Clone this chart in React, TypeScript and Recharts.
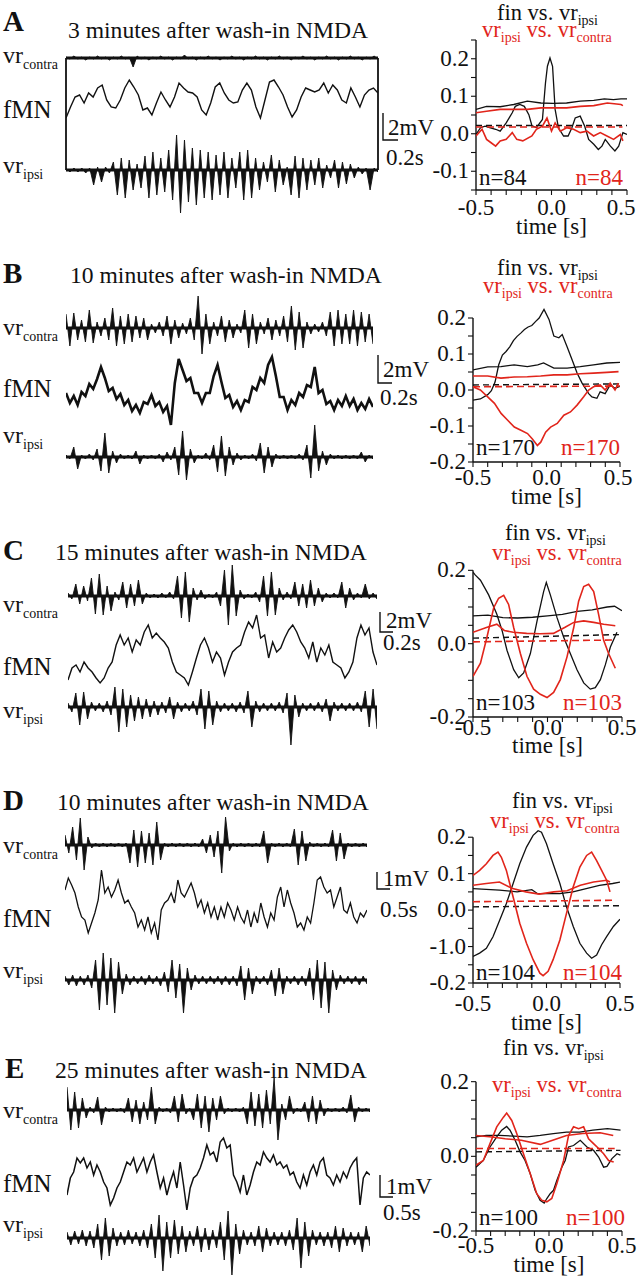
import React from "react";
import { LineChart, ComposedChart, Line, Area, XAxis, YAxis, ReferenceLine } from "recharts";

const SERIF = "'Liberation Serif', 'Times New Roman', Times, serif";
const RED = "#e1251b";

// ---------- text ----------
const letters = ["A", "B", "C", "D", "E"];
const minutesAfter = [3, 10, 15, 10, 25];
const pairCounts = [84, 170, 103, 104, 100];
const scaleAmp = ["2mV", "2mV", "2mV", "1mV", "1mV"];
const scaleTime = ["0.2s", "0.2s", "0.2s", "0.5s", "0.5s"];

// ---------- correlogram axes ----------
const lagTicks = [-0.5, -0.4, -0.3, -0.2, -0.1, 0, 0.1, 0.2, 0.3, 0.4, 0.5];
const lagLabelAt = [-0.5, 0, 0.5];
const lagLabelText = ["-0.5", "0.0", "0.5"];
const yTicksA = [-0.15, -0.1, -0.05, 0, 0.05, 0.1, 0.15, 0.2, 0.25];
const yTicksFull = [-0.2, -0.15, -0.1, -0.05, 0, 0.05, 0.1, 0.15, 0.2];
const yLabelAtA = [-0.1, 0, 0.1, 0.2];
const yLabelTextA = ["-0.1", "0.0", "0.1", "0.2"];
const yLabelAtFive = [-0.2, -0.1, 0, 0.1, 0.2];
const yLabelTextB = ["-0.2", "-0.1", "0.0", "0.1", "0.2"];
const yLabelTextD = ["-0.2", "-1.0", "0.0", "0.1", "0.2"]; // printed this way in the figure
const yLabelAtThree = [-0.2, 0, 0.2];
const yLabelTextThree = ["-0.2", "0.0", "0.2"];

// ---------- raw traces (deflection, px at figure scale) ----------
const contraA = [1,-1,2,-1,1,-2,1,-1,2,-1,1,-2,1,-1,2,-1,1,-9,2,-1,1,-2,1,-1,2,-1,1,-2,1,-1,3,-1,1,-2,1,-1,2,-1,1,-2,1,-1,2,-1,1,-2,1,-1,2,-1,1,-2,1,-1,2,-1,1,-2,1,-1,2,-1,1,-2,1,-1,2,-1,1,-2,1,-1,2,-1,1,-2,1,-1,2,-1];
const fmnA = [7,18,28,30,22,32,28,37,40,25,18,17,25,37,45,38,30,15,17,10,22,33,25,18,28,42,37,33,32,28,15,10,22,38,42,32,25,22,23,35,42,35,18,7,25,43,45,38,30,18,8,15,28,37,35,33,35,42,32,40,35,25,22,37,28,18,30,35,37,32];
const ipsiA = [2,-2,2,-2,2,-3,2,-15,3,-12,3,-3,8,-25,12,-28,10,-20,6,-18,14,-28,18,-25,12,-22,20,-30,35,-43,30,-32,22,-35,20,-28,18,-30,15,-25,18,-28,12,-18,18,-30,20,-28,12,-20,8,-12,15,-22,10,-15,3,-25,14,-28,12,-20,10,-15,12,-18,5,-8,10,-18,8,-14,6,-8,3,-4,2,-20,2,-2];

const contraB = [14,-18,15,-12,8,-14,18,-15,6,-8,10,-12,20,-18,12,-16,14,-14,12,-10,10,-12,4,-5,6,-8,12,-16,8,-10,5,-6,10,-12,32,-26,14,-16,6,-8,12,-14,8,-10,4,-5,18,-20,14,-16,6,-6,10,-12,8,-8,12,-14,22,-22,16,-20,6,-6,4,-4,6,-8,16,-18,18,-16,14,-16,18,-18,16,-14,14,-16];
const fmnB = [37,27,34,25,38,34,46,41,51,63,52,39,42,31,36,25,30,19,25,17,28,26,35,24,28,18,24,5,47,71,60,49,52,37,37,27,37,37,54,65,48,32,35,23,29,20,30,28,43,40,52,47,65,73,54,33,33,20,30,25,37,33,45,43,63,37,40,26,29,20,30,24,34,24,31,20,27,21,31,23];
const ipsiB = [2,-2,10,-12,2,-2,3,-3,8,-14,24,-16,6,-6,3,-2,2,-2,6,-7,2,-2,2,-2,3,-5,5,-3,10,-18,26,-23,8,-6,2,-2,4,-3,12,-15,21,-19,10,-8,4,-3,2,-2,3,-4,14,-16,10,-10,3,-2,2,-2,2,-2,3,-3,12,-21,32,-14,6,-8,3,-2,2,-2,2,-2,2,-2,5,-5,2,-2];

const contraC = [3,-3,12,-8,10,-5,18,-18,22,-19,10,-15,4,-4,14,-12,12,-10,16,-8,3,-2,2,-2,3,-2,4,-3,20,-22,24,-26,8,-4,6,-3,2,-2,4,-10,26,-29,31,-20,6,-3,2,-2,4,-6,20,-20,24,-19,8,-4,4,-3,14,-10,12,-12,16,-10,8,-6,3,-2,3,-2,14,-12,8,-4,3,-2,12,-3,3,-3];
const fmnC = [10,22,25,18,28,22,18,12,7,12,22,28,45,55,45,52,38,50,45,58,65,52,57,52,48,42,28,18,15,12,5,18,32,45,52,42,28,38,32,15,28,38,42,45,58,68,62,75,52,55,32,48,38,42,52,60,65,58,48,42,32,48,28,42,35,45,28,25,22,12,18,28,52,65,55,62,38,25];
const ipsiC = [4,-5,14,-18,15,-12,5,-4,4,-5,6,-8,20,-25,18,-20,12,-14,10,-12,8,-10,6,-8,5,-6,10,-12,5,-5,4,-4,6,-8,18,-22,16,-18,6,-5,4,-4,4,-5,5,-6,16,-20,6,-5,4,-4,4,-4,5,-6,14,-38,12,-10,4,-4,4,-4,5,-5,8,-14,5,-4,4,-4,4,-4,5,-5,16,-20,18,-22];

const contraD = [10,-8,18,-15,27,-25,8,-3,2,-2,2,-2,2,-2,2,-2,2,-18,15,-22,14,-18,12,-20,23,-15,2,-2,2,-2,2,-2,2,-2,2,-2,6,-8,10,-12,14,-28,28,-6,2,-2,2,-2,2,-2,2,-2,14,-18,2,-2,2,-2,2,-2,16,-20,14,-16,3,-2,2,-2,2,-2,15,-16,12,-14,2,-2,2,-2,2,-2];
const fmnD = [55,67,60,52,38,28,25,12,22,32,45,75,52,58,48,55,65,52,42,45,38,32,18,25,15,28,12,22,5,35,42,45,52,42,65,52,48,55,62,52,38,45,32,42,28,38,25,38,28,42,35,25,38,28,22,35,18,32,22,42,28,18,32,25,48,58,38,55,42,32,18,22,15,28,22,42,65,68,58,52,55,38,48,58,35,32,42,28,22,32,28,35];
const ipsiD = [4,-5,5,-6,4,-5,5,-8,20,-30,27,-25,22,-33,18,-14,6,-5,4,-4,4,-5,5,-4,4,-6,8,-12,20,-18,16,-33,12,-10,5,-4,4,-4,4,-4,4,-5,4,-5,4,-6,14,-20,12,-14,4,-4,4,-5,10,-16,12,-14,4,-4,4,-5,4,-6,12,-20,20,-28,18,-33,10,-10,5,-4,4,-4,4,-5,4,-4];

const contraE = [23,-20,18,-18,12,-8,3,-3,13,-15,3,-2,2,-2,2,-3,12,-12,10,-14,8,-10,23,-14,3,-2,2,-3,14,-12,16,-4,2,-10,16,-18,14,-22,12,-10,14,-4,2,-2,2,-2,3,-14,18,-16,16,-18,20,-14,32,-30,6,-10,14,-4,2,-2,8,-12,14,-14,10,-6,2,-2,2,-2,3,-3,15,-12,3,-2,2,-2];
const fmnE = [20,37,43,57,52,57,47,53,40,50,43,33,27,10,17,27,33,43,53,50,57,43,50,57,43,53,60,43,27,37,20,33,43,27,53,30,5,27,37,40,47,57,70,60,63,53,73,77,67,70,40,33,23,40,20,30,43,53,50,63,57,53,60,50,53,47,50,40,43,33,27,40,30,43,50,40,53,57,40,37,30,40,33,43,37,47,53,57,10,37,43,40];
const ipsiE = [6,-7,7,-6,8,-8,7,-10,14,-22,20,-18,10,-8,6,-7,8,-6,6,-8,8,-10,14,-20,23,-33,16,-20,18,-16,12,-14,7,-8,12,-14,10,-12,8,-10,16,-22,27,-37,14,-16,8,-7,6,-8,12,-14,10,-8,6,-7,6,-8,8,-12,20,-30,16,-18,8,-7,6,-8,6,-10,12,-14,10,-8,6,-7,6,-14,12,-8];

// ---------- cross-correlograms: [lag (s), value] ----------
const finCorrA = [[-0.5,-0.002],[-0.47,0.016],[-0.44,0.02],[-0.41,0.016],[-0.37,0.012],[-0.34,0.007],[-0.3,0.029],[-0.26,0.056],[-0.24,0.073],[-0.21,0.078],[-0.18,0.073],[-0.15,0.051],[-0.13,0.022],[-0.1,0.016],[-0.06,0.038],[-0.04,0.135],[-0.027,0.18],[-0.01,0.202],[0.007,0.18],[0.024,0.065],[0.046,0.016],[0.08,-0.006],[0.11,-0.006],[0.135,0.016],[0.157,0.042],[0.19,0.047],[0.22,0.02],[0.246,-0.015],[0.28,-0.028],[0.31,-0.042],[0.334,-0.033],[0.356,-0.015],[0.39,-0.033],[0.42,-0.046],[0.445,-0.033],[0.473,0.003],[0.5,-0.002]];
const finCiA = [[-0.5,0.065],[-0.43,0.073],[-0.34,0.072],[-0.25,0.078],[-0.16,0.087],[-0.07,0.082],[0.01,0.081],[0.1,0.082],[0.19,0.087],[0.28,0.089],[0.35,0.093],[0.41,0.091],[0.46,0.093],[0.5,0.093]];
const finMeanA = [[-0.5,0.022],[0.5,0.022]];
const vrCorrA = [[-0.5,-0.006],[-0.46,0.012],[-0.43,-0.015],[-0.4,-0.024],[-0.37,-0.033],[-0.34,-0.019],[-0.3,-0.015],[-0.26,0.003],[-0.23,-0.015],[-0.19,-0.019],[-0.13,-0.006],[-0.1,0.012],[-0.06,0.02],[-0.03,0.042],[0,0.007],[0.024,0.029],[0.058,0.007],[0.1,0.016],[0.146,0.012],[0.19,0.003],[0.235,0.007],[0.279,-0.006],[0.323,0.003],[0.367,-0.006],[0.411,-0.015],[0.456,-0.002],[0.473,-0.019]];
const vrCiA = [[-0.5,0.056],[-0.43,0.06],[-0.34,0.065],[-0.25,0.065],[-0.16,0.065],[-0.07,0.069],[0.01,0.069],[0.1,0.069],[0.19,0.073],[0.28,0.075],[0.37,0.082],[0.46,0.078],[0.473,0.075]];
const vrMeanA = [[-0.5,0.018],[0.47,0.018]];

const finCorrB = [[-0.5,-0.028],[-0.45,-0.025],[-0.4,-0.013],[-0.375,-0.002],[-0.35,0.022],[-0.325,0.07],[-0.3,0.097],[-0.275,0.107],[-0.25,0.12],[-0.225,0.137],[-0.2,0.149],[-0.175,0.158],[-0.15,0.168],[-0.125,0.175],[-0.1,0.179],[-0.075,0.19],[-0.05,0.2],[-0.017,0.224],[0.017,0.196],[0.05,0.15],[0.084,0.145],[0.107,0.154],[0.14,0.12],[0.174,0.084],[0.208,0.047],[0.242,0.019],[0.287,-0.01],[0.309,-0.019],[0.343,-0.023],[0.365,-0.005],[0.399,-0.01],[0.433,0.014],[0.466,0.005],[0.5,0.01]];
const finCiB = [[-0.5,0.056],[-0.4,0.064],[-0.31,0.065],[-0.22,0.07],[-0.13,0.065],[-0.06,0.07],[-0.02,0.075],[0.05,0.061],[0.14,0.061],[0.23,0.065],[0.32,0.07],[0.41,0.075],[0.5,0.077]];
const finMeanB = [[-0.5,0.014],[0.5,0.017]];
const vrCorrB = [[-0.5,0.009],[-0.45,0],[-0.4,-0.019],[-0.354,-0.037],[-0.309,-0.065],[-0.264,-0.084],[-0.219,-0.103],[-0.174,-0.112],[-0.129,-0.121],[-0.096,-0.136],[-0.062,-0.154],[-0.039,-0.145],[-0.006,-0.117],[0.028,-0.103],[0.073,-0.093],[0.118,-0.07],[0.163,-0.061],[0.208,-0.042],[0.253,-0.019],[0.287,0],[0.32,0.009],[0.365,0.014],[0.399,0],[0.433,0.019],[0.466,0],[0.49,0.019]];
const vrCiB = [[-0.5,0.039],[-0.4,0.039],[-0.31,0.033],[-0.22,0.036],[-0.13,0.037],[-0.04,0.039],[0.05,0.042],[0.14,0.042],[0.23,0.045],[0.32,0.047],[0.41,0.049],[0.49,0.051]];
const vrMeanB = [[-0.5,0.009],[0.5,0.011]];

const finCorrC = [[-0.5,0.195],[-0.484,0.187],[-0.45,0.173],[-0.395,0.133],[-0.34,0.08],[-0.305,0.036],[-0.272,-0.018],[-0.227,-0.071],[-0.193,-0.093],[-0.16,-0.08],[-0.115,-0.027],[-0.07,0.062],[-0.026,0.142],[-0.008,0.167],[0.019,0.133],[0.064,0.071],[0.108,0.018],[0.153,-0.027],[0.198,-0.071],[0.243,-0.107],[0.287,-0.124],[0.321,-0.12],[0.355,-0.098],[0.388,-0.058],[0.422,-0.009],[0.466,0.031]];
const finCiC = [[-0.5,0.076],[-0.4,0.078],[-0.3,0.071],[-0.2,0.07],[-0.1,0.072],[0,0.076],[0.1,0.08],[0.2,0.088],[0.3,0.092],[0.4,0.1],[0.45,0.102],[0.5,0.09]];
const finMeanC = [[-0.5,0.015],[0.5,0.025]];
const vrCorrC = [[-0.5,-0.089],[-0.45,-0.053],[-0.406,0.018],[-0.361,0.098],[-0.328,0.124],[-0.294,0.132],[-0.261,0.107],[-0.227,0.044],[-0.182,-0.027],[-0.138,-0.089],[-0.093,-0.124],[-0.048,-0.138],[-0.003,-0.147],[0.041,-0.133],[0.086,-0.098],[0.131,-0.036],[0.176,0.044],[0.209,0.116],[0.243,0.156],[0.276,0.162],[0.31,0.142],[0.343,0.08],[0.377,0.009],[0.41,-0.027],[0.455,-0.067]];
const vrCiC = [[-0.5,0.031],[-0.41,0.044],[-0.34,0.053],[-0.29,0.036],[-0.23,0.031],[-0.14,0.028],[-0.05,0.027],[0.04,0.028],[0.115,0.044],[0.176,0.058],[0.243,0.062],[0.31,0.058],[0.377,0.053],[0.455,0.049]];
const vrMeanC = [[-0.5,0.005],[0.45,0.01]];

const finCorrD = [[-0.5,-0.127],[-0.455,-0.118],[-0.409,-0.105],[-0.364,-0.073],[-0.318,-0.027],[-0.273,0.018],[-0.227,0.073],[-0.182,0.127],[-0.136,0.173],[-0.091,0.205],[-0.057,0.218],[-0.034,0.214],[0,0.182],[0.045,0.127],[0.091,0.073],[0.136,0.009],[0.182,-0.045],[0.227,-0.091],[0.273,-0.118],[0.307,-0.132],[0.341,-0.123],[0.375,-0.095],[0.409,-0.073],[0.455,-0.045],[0.5,-0.025]];
const finCiD = [[-0.5,0.059],[-0.32,0.055],[-0.2,0.05],[-0.1,0.056],[-0.06,0.045],[0,0.045],[0.09,0.045],[0.18,0.05],[0.27,0.059],[0.36,0.068],[0.45,0.073],[0.5,0.077]];
const finMeanD = [[-0.5,0.009],[0.5,0.012]];
const vrCorrD = [[-0.5,0.095],[-0.455,0.109],[-0.409,0.127],[-0.364,0.15],[-0.33,0.159],[-0.307,0.145],[-0.273,0.109],[-0.227,0.036],[-0.182,-0.036],[-0.136,-0.091],[-0.091,-0.136],[-0.045,-0.173],[-0.023,-0.18],[0.011,-0.168],[0.045,-0.136],[0.091,-0.082],[0.136,-0.009],[0.182,0.064],[0.227,0.118],[0.273,0.15],[0.307,0.159],[0.341,0.136],[0.375,0.109],[0.409,0.082],[0.432,0.05]];
const vrCiD = [[-0.5,0.068],[-0.41,0.073],[-0.32,0.077],[-0.23,0.059],[-0.14,0.05],[-0.05,0.044],[0.05,0.05],[0.14,0.053],[0.23,0.068],[0.32,0.077],[0.41,0.082],[0.432,0.077]];
const vrMeanD = [[-0.5,0.023],[0.45,0.027]];

const finCorrE = [[-0.5,-0.029],[-0.45,-0.011],[-0.404,0.025],[-0.358,0.052],[-0.324,0.07],[-0.29,0.08],[-0.267,0.07],[-0.232,0.043],[-0.198,0.012],[-0.164,-0.011],[-0.129,-0.046],[-0.095,-0.091],[-0.061,-0.118],[-0.033,-0.125],[-0.015,-0.113],[0.008,-0.1],[0.031,-0.091],[0.054,-0.064],[0.088,-0.029],[0.111,-0.011],[0.134,0.025],[0.168,0.029],[0.214,0.043],[0.26,0.025],[0.305,0.016],[0.34,-0.002],[0.374,-0.029],[0.397,-0.027],[0.431,-0.006],[0.466,0.007],[0.489,0.003]];
const finCiE = [[-0.5,0.052],[-0.43,0.056],[-0.34,0.056],[-0.24,0.054],[-0.15,0.052],[-0.06,0.056],[0.03,0.061],[0.12,0.065],[0.21,0.065],[0.3,0.07],[0.4,0.074],[0.49,0.07]];
const finMeanE = [[-0.5,0.012],[0.49,0.016]];
const vrCorrE = [[-0.5,-0.024],[-0.45,-0.011],[-0.404,0.034],[-0.358,0.079],[-0.312,0.105],[-0.29,0.116],[-0.255,0.096],[-0.221,0.061],[-0.175,0.007],[-0.129,-0.046],[-0.084,-0.1],[-0.049,-0.118],[-0.015,-0.122],[0.019,-0.113],[0.054,-0.073],[0.1,-0.011],[0.134,0.056],[0.168,0.079],[0.203,0.074],[0.237,0.079],[0.271,0.047],[0.305,0.034],[0.34,0.021],[0.374,0.007],[0.408,-0.011],[0.443,-0.015]];
const vrCiE = [[-0.5,0.056],[-0.39,0.052],[-0.3,0.047],[-0.19,0.043],[-0.06,0.032],[0.01,0.041],[0.12,0.056],[0.23,0.061],[0.35,0.063],[0.44,0.056]];
const vrMeanE = [[-0.5,0.021],[0.45,0.021]];

// ---------- layout (figure pixels) ----------
// plot: l/r = x of lag -0.5 / 0.5, t = y of yDom[1], b = y of yDom[0]
const layout = [
  {
    letterY: 31, titleX: 68, titleY: 38, tx: 66, tw: 312,
    contraBase: 58, contraDom: [-10, 10], fmnTop: 75, fmnDom: [0, 50], ipsiBase: 170, ipsiDom: [-45, 40],
    lblContra: 63, lblFmn: 118, lblIpsi: 173,
    bar: { x: 383, y1: 113, y2: 140, w: 15, ampX: 388, ampY: 135, timeX: 386, timeY: 165 },
    plot: { l: 476, t: 40, r: 627, b: 190 }, yDom: [-0.15, 0.25], axisTop: 0.25,
    finTitle: [497, 20], vrTitle: [482, 37], xLabDy: 25, lastLabDx: -6, timeLabY: 234, nY: 185, nRight: 623,
    box: true, fmnWidth: 1.4,
  },
  {
    letterY: 283, titleX: 70, titleY: 283, tx: 66, tw: 307,
    contraBase: 328, contraDom: [-30, 35], fmnTop: 350, fmnDom: [0, 80], ipsiBase: 457, ipsiDom: [-25, 35],
    lblContra: 335, lblFmn: 397, lblIpsi: 443,
    bar: { x: 378, y1: 355, y2: 383, w: 14, ampX: 383, ampY: 377, timeX: 380, timeY: 405 },
    plot: { l: 473, t: 300, r: 620, b: 462 }, yDom: [-0.2, 0.25], axisTop: 0.2,
    finTitle: [497, 275], vrTitle: [483, 293], xLabDy: 23, lastLabDx: -2, timeLabY: 504, nY: 455, nRight: 620,
    box: false, fmnWidth: 2.6,
  },
  {
    letterY: 560, titleX: 55, titleY: 560, tx: 68, tw: 309,
    contraBase: 596, contraDom: [-30, 32], fmnTop: 610, fmnDom: [0, 80], ipsiBase: 707, ipsiDom: [-40, 25],
    lblContra: 612, lblFmn: 675, lblIpsi: 718,
    bar: { x: 380, y1: 612, y2: 632, w: 13, ampX: 386, ampY: 628, timeX: 383, timeY: 650 },
    plot: { l: 473, t: 552, r: 622, b: 717 }, yDom: [-0.2, 0.25], axisTop: 0.2,
    finTitle: [505, 540], vrTitle: [492, 560], xLabDy: 18, lastLabDx: 0, timeLabY: 753, nY: 710, nRight: 622,
    box: false, fmnWidth: 1.4,
  },
  {
    letterY: 810, titleX: 57, titleY: 810, tx: 65, tw: 302,
    contraBase: 845, contraDom: [-30, 30], fmnTop: 868, fmnDom: [0, 77], ipsiBase: 980, ipsiDom: [-35, 30],
    lblContra: 853, lblFmn: 927, lblIpsi: 978,
    bar: { x: 377, y1: 872, y2: 889, w: 13, ampX: 383, ampY: 886, timeX: 380, timeY: 917 },
    plot: { l: 473, t: 819, r: 620, b: 983 }, yDom: [-0.2, 0.25], axisTop: 0.2,
    finTitle: [512, 808], vrTitle: [490, 828], xLabDy: 28, lastLabDx: 0, timeLabY: 1030, nY: 980, nRight: 622,
    box: false, fmnWidth: 1.3,
  },
  {
    letterY: 1078, titleX: 55, titleY: 1078, tx: 67, tw: 303,
    contraBase: 1110, contraDom: [-32, 34], fmnTop: 1135, fmnDom: [0, 80], ipsiBase: 1238, ipsiDom: [-40, 30],
    lblContra: 1118, lblFmn: 1192, lblIpsi: 1232,
    bar: { x: 380, y1: 1175, y2: 1197, w: 13, ampX: 386, ampY: 1194, timeX: 383, timeY: 1220 },
    plot: { l: 476, t: 1063, r: 622, b: 1231 }, yDom: [-0.2, 0.25], axisTop: 0.2,
    finTitle: [503, 1055], vrTitle: [492, 1092], xLabDy: 22, lastLabDx: 0, timeLabY: 1272, nY: 1225, nRight: 625,
    box: false, fmnWidth: 1.5,
  },
];

const traces = [
  [contraA, fmnA, ipsiA],
  [contraB, fmnB, ipsiB],
  [contraC, fmnC, ipsiC],
  [contraD, fmnD, ipsiD],
  [contraE, fmnE, ipsiE],
];

const correlograms = [
  [finCorrA, finCiA, finMeanA, vrCorrA, vrCiA, vrMeanA],
  [finCorrB, finCiB, finMeanB, vrCorrB, vrCiB, vrMeanB],
  [finCorrC, finCiC, finMeanC, vrCorrC, vrCiC, vrMeanC],
  [finCorrD, finCiD, finMeanD, vrCorrD, vrCiD, vrMeanD],
  [finCorrE, finCiE, finMeanE, vrCorrE, vrCiE, vrMeanE],
];

const yAxes = [
  { ticks: yTicksA, at: yLabelAtA, text: yLabelTextA },
  { ticks: yTicksFull, at: yLabelAtFive, text: yLabelTextB },
  { ticks: yTicksFull, at: yLabelAtThree, text: yLabelTextThree },
  { ticks: yTicksFull, at: yLabelAtFive, text: yLabelTextD },
  { ticks: yTicksFull, at: yLabelAtThree, text: yLabelTextThree },
];

const lineStyles = [
  { color: "#111", width: 1.3, dash: undefined },
  { color: "#111", width: 1.3, dash: undefined },
  { color: "#111", width: 1.4, dash: "6 4" },
  { color: RED, width: 1.6, dash: undefined },
  { color: RED, width: 1.6, dash: undefined },
  { color: RED, width: 1.6, dash: "7 4" },
];

// ventral-root recording: alternating deflections filled against a thick baseline
function Spikes({ values, left, top, width, dom }: any) {
  const data = values.map((v: number, i: number) => ({ i, v }));
  const h = dom[1] - dom[0];
  return (
    <div style={{ position: "absolute", left, top: top - 2 }}>
      <ComposedChart width={width} height={h + 4} data={data} margin={{ top: 2, right: 0, bottom: 2, left: 0 }}>
        <XAxis dataKey="i" type="number" domain={[0, values.length - 1]} hide />
        <YAxis type="number" domain={dom} hide allowDataOverflow />
        <Area
          type="linear"
          dataKey="v"
          baseValue={0}
          stroke="#111"
          strokeWidth={0.9}
          fill="#111"
          fillOpacity={1}
          isAnimationActive={false}
        />
        <ReferenceLine y={0} stroke="#111" strokeWidth={3} />
      </ComposedChart>
    </div>
  );
}

function Trace({ values, left, top, width, dom, sw }: any) {
  const data = values.map((v: number, i: number) => ({ i, v }));
  const h = dom[1] - dom[0];
  return (
    <div style={{ position: "absolute", left, top: top - 2 }}>
      <LineChart width={width} height={h + 4} data={data} margin={{ top: 2, right: 0, bottom: 2, left: 0 }}>
        <XAxis dataKey="i" type="number" domain={[0, values.length - 1]} hide />
        <YAxis type="number" domain={dom} hide allowDataOverflow />
        <Line type="linear" dataKey="v" stroke="#111" strokeWidth={sw} dot={false} isAnimationActive={false} />
      </LineChart>
    </div>
  );
}

function near(list: number[], v: number) {
  return list.findIndex((x) => Math.abs(x - v) < 1e-6);
}

function CorrPlot({ cfg, series, yAxis }: any) {
  const { l, t, r, b } = cfg.plot;
  const W = r - l + 76;
  const H = b - t + 60;
  const xTick = (props: any) => {
    const k = near(lagLabelAt, props.payload.value);
    if (k < 0) return <g />;
    const dx = k === lagLabelAt.length - 1 ? cfg.lastLabDx : 0;
    return (
      <text x={props.x + dx} y={props.y + cfg.xLabDy - 5} textAnchor="middle" fontFamily={SERIF} fontSize={23} fill="#111">
        {lagLabelText[k]}
      </text>
    );
  };
  const yTick = (props: any) => {
    const k = near(yAxis.at, props.payload.value);
    if (k < 0) return <g />;
    return (
      <text x={props.x} y={props.y + 7} textAnchor="end" fontFamily={SERIF} fontSize={23} fill="#111">
        {yAxis.text[k]}
      </text>
    );
  };
  return (
    <div style={{ position: "absolute", left: l - 60, top: t - 15 }}>
      <LineChart width={W} height={H} margin={{ top: 15, right: 16, bottom: 0, left: 0 }}>
        <XAxis
          type="number"
          dataKey="t"
          domain={[-0.5, 0.5]}
          ticks={lagTicks}
          interval={0}
          height={45}
          tickSize={5}
          tickMargin={0}
          axisLine={{ stroke: "#111", strokeWidth: 1.4 }}
          tickLine={{ stroke: "#111", strokeWidth: 1.1 }}
          tick={xTick}
          allowDataOverflow
        />
        <YAxis
          type="number"
          domain={cfg.yDom}
          ticks={yAxis.ticks}
          interval={0}
          width={60}
          tickSize={5}
          tickMargin={2}
          axisLine={false}
          tickLine={{ stroke: "#111", strokeWidth: 1.1 }}
          tick={yTick}
          allowDataOverflow
        />
        <ReferenceLine
          segment={[{ x: -0.5, y: cfg.yDom[0] }, { x: -0.5, y: cfg.axisTop }]}
          stroke="#111"
          strokeWidth={1.4}
        />
        {series.map((pts: number[][], k: number) => (
          <Line
            key={k}
            data={pts.map(([lag, v]) => ({ t: lag, v }))}
            dataKey="v"
            type="linear"
            stroke={lineStyles[k].color}
            strokeWidth={lineStyles[k].width}
            strokeDasharray={lineStyles[k].dash}
            dot={false}
            isAnimationActive={false}
          />
        ))}
      </LineChart>
    </div>
  );
}

function Labels() {
  const t = { fontFamily: SERIF, fill: "#111" };
  return (
    <svg width={638} height={1280} style={{ position: "absolute", left: 0, top: 0, pointerEvents: "none" }}>
      {layout.map((c, p) => (
        <g key={p}>
          <text x={p === 4 ? 5 : 3} y={c.letterY} fontSize={29} fontWeight="bold" {...t}>{letters[p]}</text>
          <text x={c.titleX} y={c.titleY} fontSize={23.6} {...t}>{`${minutesAfter[p]} minutes after wash-in NMDA`}</text>
          <text x={3} y={c.lblContra} fontSize={24} {...t}>vr<tspan fontSize={14} dy={6}>contra</tspan></text>
          <text x={3} y={c.lblFmn} fontSize={25} {...t}>fMN</text>
          <text x={3} y={c.lblIpsi} fontSize={24} {...t}>vr<tspan fontSize={14} dy={6}>ipsi</tspan></text>
          <polyline
            points={`${c.bar.x},${c.bar.y1} ${c.bar.x},${c.bar.y2} ${c.bar.x + c.bar.w},${c.bar.y2}`}
            fill="none"
            stroke="#111"
            strokeWidth={1.4}
          />
          <text x={c.bar.ampX} y={c.bar.ampY} fontSize={23} {...t}>{scaleAmp[p]}</text>
          <text x={c.bar.timeX} y={c.bar.timeY} fontSize={23} {...t}>{scaleTime[p]}</text>
          {c.box && (
            <g stroke="#111" strokeWidth={1.8}>
              <line x1={c.tx} y1={c.contraBase} x2={c.tx} y2={c.ipsiBase} />
              <line x1={c.tx + c.tw} y1={c.contraBase} x2={c.tx + c.tw} y2={c.ipsiBase} />
            </g>
          )}
          <text x={c.finTitle[0]} y={c.finTitle[1]} fontSize={22.5} {...t}>
            fin vs. vr<tspan fontSize={14} dy={5}>ipsi</tspan>
          </text>
          <text x={c.vrTitle[0]} y={c.vrTitle[1]} fontSize={22.5} fontFamily={SERIF} fill={RED}>
            vr<tspan fontSize={14} dy={5}>ipsi</tspan>
            <tspan dy={-5}> vs. vr</tspan>
            <tspan fontSize={14} dy={5}>contra</tspan>
          </text>
          <text x={(c.plot.l + c.plot.r) / 2} y={c.timeLabY} fontSize={23} textAnchor="middle" {...t}>time [s]</text>
          <text x={c.plot.l + 3} y={c.nY} fontSize={23} {...t}>{`n=${pairCounts[p]}`}</text>
          <text x={c.nRight} y={c.nY} fontSize={23} textAnchor="end" fontFamily={SERIF} fill={RED}>{`n=${pairCounts[p]}`}</text>
        </g>
      ))}
    </svg>
  );
}

export default function App() {
  return (
    <div style={{ position: "absolute", left: 0, top: 0, width: 638, height: 1280, background: "#fff", overflow: "hidden" }}>
      {layout.map((c, p) => {
        const [contra, fmn, ipsi] = traces[p];
        return (
          <React.Fragment key={p}>
            <Spikes values={contra} left={c.tx} top={c.contraBase - c.contraDom[1]} width={c.tw} dom={c.contraDom} />
            <Trace values={fmn} left={c.tx} top={c.fmnTop} width={c.tw} dom={c.fmnDom} sw={c.fmnWidth} />
            <Spikes values={ipsi} left={c.tx} top={c.ipsiBase - c.ipsiDom[1]} width={c.tw} dom={c.ipsiDom} />
            <CorrPlot cfg={c} series={correlograms[p]} yAxis={yAxes[p]} />
          </React.Fragment>
        );
      })}
      <Labels />
    </div>
  );
}
